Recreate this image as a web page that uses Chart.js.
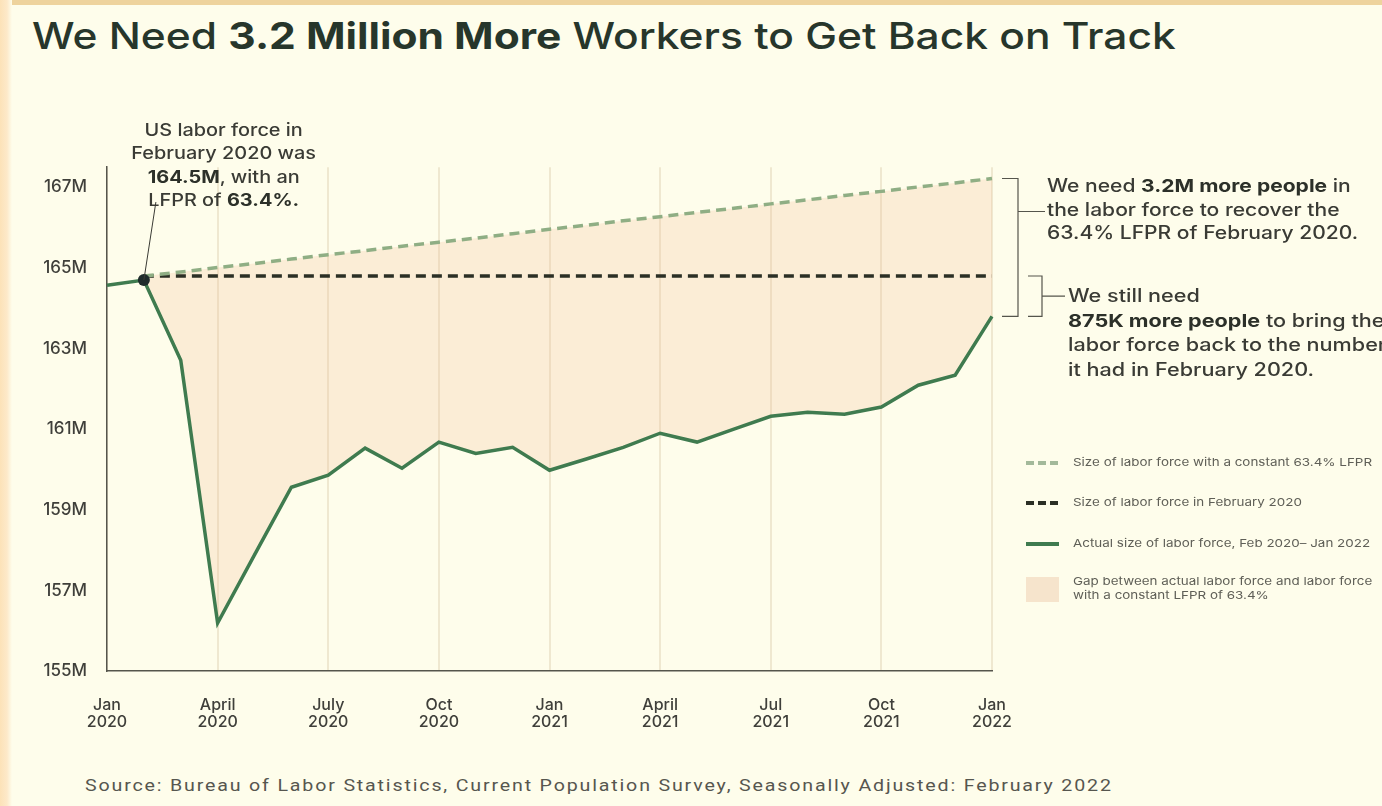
<!DOCTYPE html>
<html>
<head>
<meta charset="utf-8">
<title>We Need 3.2 Million More Workers to Get Back on Track</title>
<script src="https://cdn.jsdelivr.net/npm/chart.js@4.4.0/dist/chart.umd.min.js"></script>
<style>
  html, body {
    margin: 0;
    padding: 0;
  }
  body {
    width: 1382px;
    height: 806px;
    position: relative;
    overflow: hidden;
    background: #fefdeb;
    font-family: "Inter", "Lato", sans-serif;
    color: #3a3b35;
  }
  .frame-top {
    position: absolute;
    left: 0; top: 0;
    width: 1382px; height: 5px;
    background: #eed39d;
  }
  .frame-left {
    position: absolute;
    left: 0; top: 0;
    width: 12px; height: 806px;
    background: linear-gradient(90deg, #fce2b8 0, #fde9c9 7px, #fefdeb 12px);
  }
  .wide {
    transform-origin: 0 0;
  }
  #title {
    position: absolute;
    left: 32px; top: 13px;
    font-size: 37px;
    font-weight: 500;
    color: #27362b;
    white-space: nowrap;
    transform: scaleX(1.148);
  }
  #title b { font-weight: 700; }
  #chart-box {
    position: absolute;
    left: 40px; top: 145px;
    width: 1040px; height: 600px;
  }
  .note {
    position: absolute;
    white-space: nowrap;
    color: #3a3b35;
    font-weight: 500;
  }
  .note b { font-weight: 700; color: #2c3029; }
  #note-feb {
    left: 95px; top: 119px;
    width: 220px;
    text-align: center;
    font-size: 17px;
    line-height: 23.3px;
    transform: scaleX(1.17);
  }
  #note-lfpr {
    left: 1047px; top: 174px;
    font-size: 18px;
    line-height: 23.5px;
    transform: scaleX(1.17);
  }
  #note-level {
    left: 1068px; top: 284px;
    font-size: 18px;
    line-height: 24.5px;
    transform: scaleX(1.2);
  }
  .legend {
    position: absolute;
    left: 1026px;
    font-size: 11px;
    line-height: 14px;
    color: #5f5f57;
    white-space: nowrap;
  }
  .legend .sym {
    position: absolute;
    left: 0;
    width: 33px;
  }
  .legend .txt {
    position: absolute;
    left: 47px;
    transform-origin: 0 0;
    transform: scaleX(1.22);
  }
  #source {
    position: absolute;
    left: 85px; top: 776px;
    font-family: "Roboto", sans-serif;
    font-size: 16px;
    letter-spacing: 1.5px;
    color: #56564f;
    white-space: nowrap;
    transform: scaleX(1.225);
  }
</style>
</head>
<body>
<div class="frame-top"></div>
<div class="frame-left"></div>

<div id="title" class="wide">We Need <b>3.2 Million More</b> Workers to Get Back on Track</div>

<div id="chart-box"><canvas id="labor-chart"></canvas></div>

<div class="note wide" id="note-feb">US labor force in<br>February 2020 was<br><b>164.5M</b>, with an<br>LFPR of <b>63.4%.</b></div>
<div class="note wide" id="note-lfpr">We need <b>3.2M more people</b> in<br>the labor force to recover the<br>63.4% LFPR of February 2020.</div>
<div class="note wide" id="note-level">We still need<br><b>875K more people</b> to bring the<br>labor force back to the number<br>it had in February 2020.</div>

<div class="legend" style="top:455px;">
  <div class="sym" style="top:6px;height:4px;background:repeating-linear-gradient(90deg,#a3b99a 0 8px,transparent 8px 12px);"></div>
  <div class="txt">Size of labor force with a constant 63.4% LFPR</div>
</div>
<div class="legend" style="top:495px;">
  <div class="sym" style="top:6px;height:4px;background:repeating-linear-gradient(90deg,#2b2f25 0 8px,transparent 8px 12px);"></div>
  <div class="txt">Size of labor force in February 2020</div>
</div>
<div class="legend" style="top:536px;">
  <div class="sym" style="top:6px;height:4px;background:#3f7b4f;"></div>
  <div class="txt">Actual size of labor force, Feb 2020– Jan 2022</div>
</div>
<div class="legend" style="top:574px;">
  <div class="sym" style="top:3px;height:25px;background:#f6e4cc;"></div>
  <div class="txt">Gap between actual labor force and labor force<br>with a constant LFPR of 63.4%</div>
</div>

<div id="source" class="wide">Source: Bureau of Labor Statistics, Current Population Survey, Seasonally Adjusted: February 2022</div>

<script>
//data
const MONTHS = [
  "Jan 2020", "Feb 2020", "Mar 2020", "Apr 2020", "May 2020", "Jun 2020",
  "Jul 2020", "Aug 2020", "Sep 2020", "Oct 2020", "Nov 2020", "Dec 2020",
  "Jan 2021", "Feb 2021", "Mar 2021", "Apr 2021", "May 2021", "Jun 2021",
  "Jul 2021", "Aug 2021", "Sep 2021", "Oct 2021", "Nov 2021", "Dec 2021",
  "Jan 2022",
];

// quarterly tick labels, one per third month
const TICK_LABELS = [
  ["Jan", "2020"],
  ["April", "2020"],
  ["July", "2020"],
  ["Oct", "2020"],
  ["Jan", "2021"],
  ["April", "2021"],
  ["Jul", "2021"],
  ["Oct", "2021"],
  ["Jan", "2022"],
];

const Y_TICKS = [155, 157, 159, 161, 163, 165, 167];

// millions of people
const ACTUAL = [
  164.57, 164.7, 162.71, 156.19, 157.88, 159.56,
  159.86, 160.53, 160.03, 160.68, 160.4, 160.55,
  159.98, 160.26, 160.55, 160.9, 160.68, 161.0,
  161.32, 161.42, 161.37, 161.55, 162.09, 162.34,
  163.8,
];

const FEB_2020_LEVEL = [
  null, 164.8, 164.8, 164.8, 164.8, 164.8,
  164.8, 164.8, 164.8, 164.8, 164.8, 164.8,
  164.8, 164.8, 164.8, 164.8, 164.8, 164.8,
  164.8, 164.8, 164.8, 164.8, 164.8, 164.8,
  164.8,
];

const CONSTANT_LFPR = [
  null, 164.8, 164.9, 165.01, 165.11, 165.22,
  165.33, 165.43, 165.54, 165.64, 165.74, 165.85,
  165.96, 166.06, 166.17, 166.27, 166.38, 166.48,
  166.59, 166.69, 166.8, 166.9, 167.01, 167.11,
  167.22,
];

const COLORS = {
  actual: "#3f7b4f",
  lfpr: "#8fae84",
  feb: "#2b2f25",
  gap: "rgba(240, 180, 140, 0.22)",
  axis: "#55554c",
  grid: "rgba(205, 185, 145, 0.3)",
  dot: "#1e2b2b",
  ink: "#3f3f3a",
};

//brackets on the right and the leader line to the February note
const annotationLines = {
  id: "annotationLines",
  afterDatasetsDraw(chart) {
    const { ctx, scales } = chart;
    const last = MONTHS.length - 1;
    const xEnd = scales.x.getPixelForValue(last);
    const yTop = scales.y.getPixelForValue(CONSTANT_LFPR[last]);
    const yMid = scales.y.getPixelForValue(FEB_2020_LEVEL[last]);
    const yBot = scales.y.getPixelForValue(ACTUAL[last]);

    ctx.save();
    ctx.strokeStyle = "#55554c";
    ctx.lineWidth = 1.2;
    ctx.beginPath();
    ctx.moveTo(xEnd + 10, yTop);
    ctx.lineTo(xEnd + 26, yTop);
    ctx.lineTo(xEnd + 26, yBot);
    ctx.lineTo(xEnd + 10, yBot);
    ctx.moveTo(xEnd + 26, yTop + 33);
    ctx.lineTo(xEnd + 53, yTop + 33);

    ctx.moveTo(xEnd + 36, yMid);
    ctx.lineTo(xEnd + 50, yMid);
    ctx.lineTo(xEnd + 50, yBot);
    ctx.lineTo(xEnd + 36, yBot);
    ctx.moveTo(xEnd + 50, (yMid + yBot) / 2);
    ctx.lineTo(xEnd + 73, (yMid + yBot) / 2);
    ctx.stroke();

    const pt = chart.getDatasetMeta(0).data[1];
    ctx.strokeStyle = "#3a3b35";
    ctx.lineWidth = 1;
    ctx.beginPath();
    ctx.moveTo(pt.x, pt.y);
    ctx.lineTo(pt.x + 12, pt.y - 78);
    ctx.stroke();
    ctx.restore();
  },
};

const laborCtx = document.getElementById("labor-chart");

new Chart(laborCtx, {
  type: "line",
  data: {
    labels: MONTHS,
    datasets: [
      {
        label: "Actual size of labor force, Feb 2020– Jan 2022",
        data: ACTUAL,
        borderColor: COLORS.actual,
        borderWidth: 3.5,
        backgroundColor: COLORS.gap,
        fill: { target: 1 },
        tension: 0,
        pointRadius: (c) => (c.dataIndex === 1 ? 6 : 0),
        pointBackgroundColor: COLORS.dot,
        pointBorderWidth: 0,
      },
      {
        label: "Size of labor force with a constant 63.4% LFPR",
        data: CONSTANT_LFPR,
        borderColor: COLORS.lfpr,
        borderWidth: 3.5,
        borderDash: [10, 6],
        pointRadius: 0,
        fill: false,
      },
      {
        label: "Size of labor force in February 2020",
        data: FEB_2020_LEVEL,
        borderColor: COLORS.feb,
        borderWidth: 3.5,
        borderDash: [10, 6],
        pointRadius: 0,
        fill: false,
      },
    ],
  },
  options: {
    responsive: true,
    maintainAspectRatio: false,
    animation: false,
    layout: {
      padding: { top: 9, right: 88, bottom: 14, left: 0 },
    },
    plugins: {
      legend: { display: false },
      tooltip: { enabled: false },
      title: { display: false },
      filler: { drawTime: "beforeDatasetsDraw" },
    },
    scales: {
      x: {
        type: "category",
        offset: false,
        grid: {
          color: COLORS.grid,
          lineWidth: 2,
          drawTicks: false,
        },
        border: { display: true, color: COLORS.axis, width: 1.5 },
        ticks: {
          autoSkip: false,
          maxRotation: 0,
          padding: 25,
          color: COLORS.ink,
          font: { family: "Inter", size: 16, weight: 500, lineHeight: 1.1 },
          callback: (val, idx) => (idx % 3 === 0 ? TICK_LABELS[idx / 3] : null),
        },
        afterFit: (scale) => {
          scale.height = 60;
        },
      },
      y: {
        min: 155,
        max: 167.5,
        grid: { display: false },
        border: { display: true, color: COLORS.axis, width: 1.5 },
        afterBuildTicks: (scale) => {
          scale.ticks = Y_TICKS.map((v) => ({ value: v }));
        },
        ticks: {
          padding: 12,
          color: COLORS.ink,
          font: { family: "Inter", size: 17, weight: 500 },
          callback: (v) => v + "M",
        },
        afterFit: (scale) => {
          scale.width = 67;
        },
      },
    },
  },
  plugins: [annotationLines],
});
</script>
</body>
</html>
